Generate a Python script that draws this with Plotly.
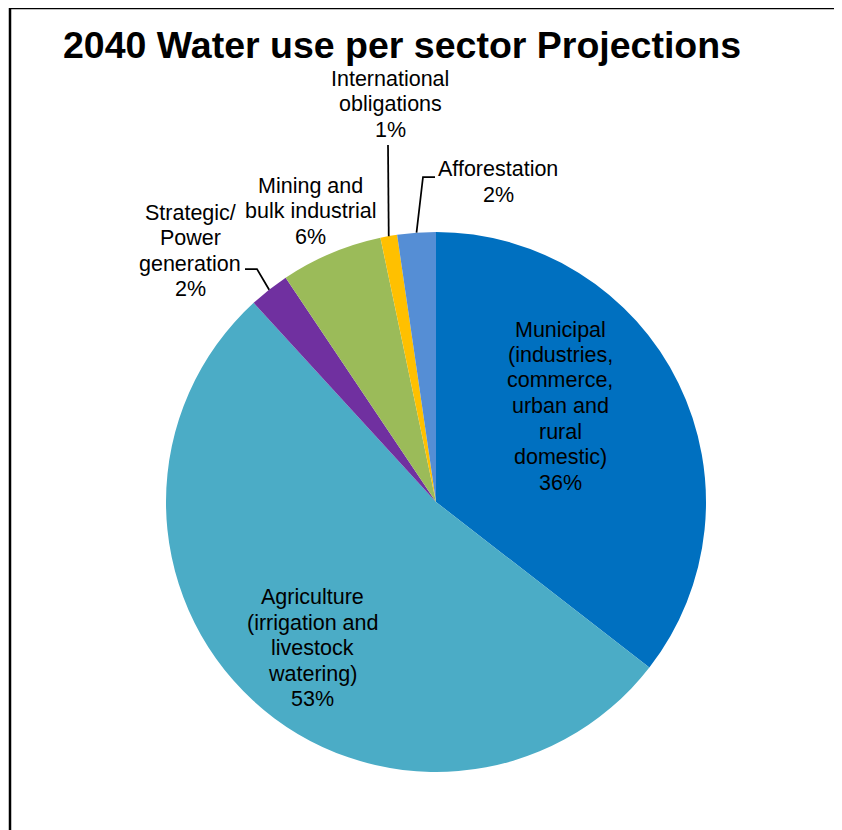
import math
import plotly.graph_objects as go

# ---- data ----
sectors = [
    "Municipal (industries, commerce, urban and rural domestic)",
    "Agriculture (irrigation and livestock watering)",
    "Strategic/ Power generation",
    "Mining and bulk industrial",
    "International obligations",
    "Afforestation",
]
label_lines = [
    ["Municipal", "(industries,", "commerce,", "urban and", "rural", "domestic)"],
    ["Agriculture", "(irrigation and", "livestock", "watering)"],
    ["Strategic/", "Power", "generation"],
    ["Mining and", "bulk industrial"],
    ["International", "obligations"],
    ["Afforestation"],
]
shares = [35.5, 52.7, 2.4, 6.1, 1.0, 2.3]
colors = ["#0070C0", "#4BACC6", "#7030A0", "#9BBB59", "#FFC000", "#558ED5"]

# ---- layout constants (window pixels) ----
WIN_W, WIN_H = 842, 830
OFF = 8  # default page body margin
W, H = WIN_W - OFF, WIN_H - OFF
CX, CY, R = 436, 502, 270
FONT = "Arial, Liberation Sans, sans-serif"
LABEL_SIZE = 21.5
LINE_STEP = 25.5

# label centre positions (px) and optional leader elbows (px)
label_pos = [(560, 406), (312, 648), (190, 251), (310, 211), (390, 104), (498, 182)]
leaders = {
    2: [(245, 269), (257, 269)],
    4: [(388, 145)],
    5: [(435, 177), (423, 177)],
}


def px(x):
    return (x - OFF) / W


def py(y):
    return 1 - (y - OFF) / H


fig = go.Figure(
    go.Pie(
        labels=sectors,
        values=shares,
        marker=dict(colors=colors, line=dict(width=0)),
        sort=False,
        direction="clockwise",
        rotation=0,
        textinfo="none",
        hoverinfo="label+percent",
        showlegend=False,
        domain=dict(x=[px(CX - R), px(CX + R)], y=[py(CY + R), py(CY - R)]),
    )
)

total = sum(shares)
annotations = []
shapes = []
cum = 0.0
for i, v in enumerate(shares):
    mid = (cum + v / 2) / total * 2 * math.pi
    cum += v
    pct = round(v / total * 100)
    lines = label_lines[i] + [f"{pct}%"]
    lx, ly = label_pos[i]
    n = len(lines)
    for k, line in enumerate(lines):
        yk = ly + (k - (n - 1) / 2) * LINE_STEP
        annotations.append(
            dict(
                x=px(lx), y=py(yk), xref="paper", yref="paper",
                text=line, showarrow=False, xanchor="center", yanchor="middle",
                align="center",
                font=dict(family=FONT, size=LABEL_SIZE, color="#000000"),
            )
        )
    if i in leaders:
        ex = CX + R * math.sin(mid)
        ey = CY - R * math.cos(mid)
        pts = leaders[i] + [(ex, ey)]
        path = "M " + " L ".join(f"{px(x):.5f},{py(y):.5f}" for x, y in pts)
        shapes.append(
            dict(type="path", xref="paper", yref="paper", path=path,
                 line=dict(color="#000000", width=1.75))
        )

# outer frame: left and top edges only
frame_pts = [(10, WIN_H + 20), (10, 8), (WIN_W + 20, 8)]
shapes.append(
    dict(type="path", xref="paper", yref="paper",
         path="M " + " L ".join(f"{px(x):.5f},{py(y):.5f}" for x, y in frame_pts),
         line=dict(color="#000000", width=2.5))
)

fig.update_layout(
    width=W, height=H,
    margin=dict(l=0, r=0, t=0, b=0),
    paper_bgcolor="white", plot_bgcolor="white",
    title=dict(
        text="<b>2040 Water use per sector Projections</b>",
        x=px(402), xanchor="center", y=py(45), yanchor="middle",
        font=dict(family=FONT, size=37.5, color="#000000"),
    ),
    annotations=annotations,
    shapes=shapes,
)

fig.write_html("out.html")
